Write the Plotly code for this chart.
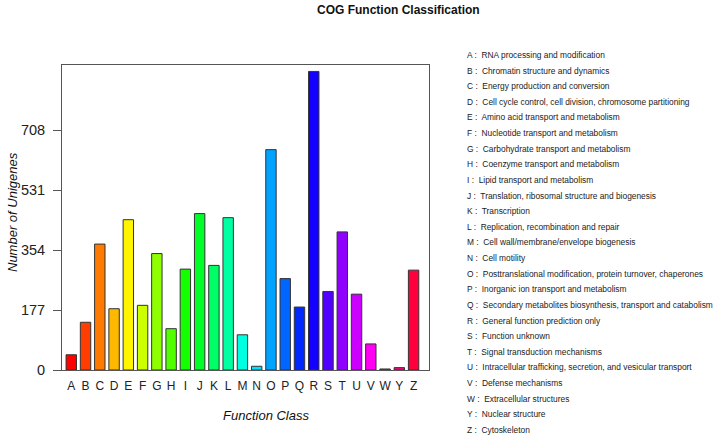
import plotly.graph_objects as go

categories = ["A", "B", "C", "D", "E", "F", "G", "H", "I", "J", "K", "L", "M",
              "N", "O", "P", "Q", "R", "S", "T", "U", "V", "W", "Y", "Z"]
counts = [45, 141, 372, 181, 444, 191, 344, 122, 298, 462, 309, 450, 104,
          11, 651, 270, 186, 882, 232, 408, 224, 77, 3, 7, 295]
descriptions = [
    "RNA processing and modification",
    "Chromatin structure and dynamics",
    "Energy production and conversion",
    "Cell cycle control, cell division, chromosome partitioning",
    "Amino acid transport and metabolism",
    "Nucleotide transport and metabolism",
    "Carbohydrate transport and metabolism",
    "Coenzyme transport and metabolism",
    "Lipid transport and metabolism",
    "Translation, ribosomal structure and biogenesis",
    "Transcription",
    "Replication, recombination and repair",
    "Cell wall/membrane/envelope biogenesis",
    "Cell motility",
    "Posttranslational modification, protein turnover, chaperones",
    "Inorganic ion transport and metabolism",
    "Secondary metabolites biosynthesis, transport and catabolism",
    "General function prediction only",
    "Function unknown",
    "Signal transduction mechanisms",
    "Intracellular trafficking, secretion, and vesicular transport",
    "Defense mechanisms",
    "Extracellular structures",
    "Nuclear structure",
    "Cytoskeleton",
]
y_ticks = [0, 177, 354, 531, 708]

colors = ["#FF0000", "#FF3D00", "#FF7A00", "#FFB800", "#FFF500", "#CCFF00",
          "#8FFF00", "#52FF00", "#14FF00", "#00FF29", "#00FF66", "#00FFA3",
          "#00FFE0", "#00E0FF", "#00A3FF", "#0066FF", "#0029FF", "#1400FF",
          "#5200FF", "#8F00FF", "#CC00FF", "#FF00F5", "#FF00B8", "#FF007A",
          "#FF003D"]

W, H = 723, 438
L, R, T, B = 62, 429, 65, 370
pw, ph = R - L, B - T

xs = list(range(len(categories)))

fig = go.Figure()
fig.add_trace(go.Bar(
    x=xs, y=counts,
    marker=dict(color=colors, line=dict(color="#333333", width=1)),
    width=0.73,
    hoverinfo="x+y",
))

font_family = "Liberation Sans, Arial, sans-serif"

annotations = []
# axis titles
annotations.append(dict(
    x=(266 - L) / pw, y=(B - 416) / ph, xref="paper", yref="paper",
    text="<i>Function Class</i>", showarrow=False,
    font=dict(size=13, color="#111111", family=font_family),
    xanchor="center", yanchor="middle"))
annotations.append(dict(
    x=(12 - L) / pw, y=(B - 212) / ph, xref="paper", yref="paper",
    text="<i>Number of Unigenes</i>", showarrow=False, textangle=-90,
    font=dict(size=13, color="#111111", family=font_family),
    xanchor="center", yanchor="middle"))
# title
annotations.append(dict(
    x=(398 - L) / pw, y=(B - 10) / ph, xref="paper", yref="paper",
    text="<b>COG Function Classification</b>", showarrow=False,
    font=dict(size=12, color="#111111", family=font_family),
    xanchor="center", yanchor="middle"))
# legend text
for i, (c, d) in enumerate(zip(categories, descriptions)):
    py = 55 + i * 15.62
    annotations.append(dict(
        x=(465 - L) / pw, y=(B - py) / ph, xref="paper", yref="paper",
        text=f"{c} :  {d}", showarrow=False,
        font=dict(size=8.4, color="#222222", family=font_family),
        xanchor="left", yanchor="middle"))

fig.update_layout(
    width=W, height=H,
    margin=dict(l=L, r=W - R, t=T, b=H - B, pad=0),
    paper_bgcolor="white", plot_bgcolor="white",
    showlegend=False,
    annotations=annotations,
    font=dict(family=font_family, color="#111111"),
)
fig.update_xaxes(
    range=[-0.65, 25.08],
    tickmode="array", tickvals=xs, ticktext=categories,
    tickfont=dict(size=12, color="#222222"),
    showgrid=False, zeroline=False,
    showline=True, linecolor="#555555", linewidth=1, mirror=True,
    ticks="", ticklabelstandoff=5,
)
fig.update_yaxes(
    range=[0, 901],
    tickmode="array", tickvals=y_ticks, ticktext=[str(v) for v in y_ticks],
    tickfont=dict(size=14.5, color="#222222"),
    showgrid=False, zeroline=False,
    showline=True, linecolor="#555555", linewidth=1, mirror=True,
    ticks="outside", ticklen=8, tickcolor="#555555",
    ticklabelstandoff=5,
)

fig.write_html("out.html", config={"displayModeBar": False},
               post_script="document.body.style.margin='0px';")
